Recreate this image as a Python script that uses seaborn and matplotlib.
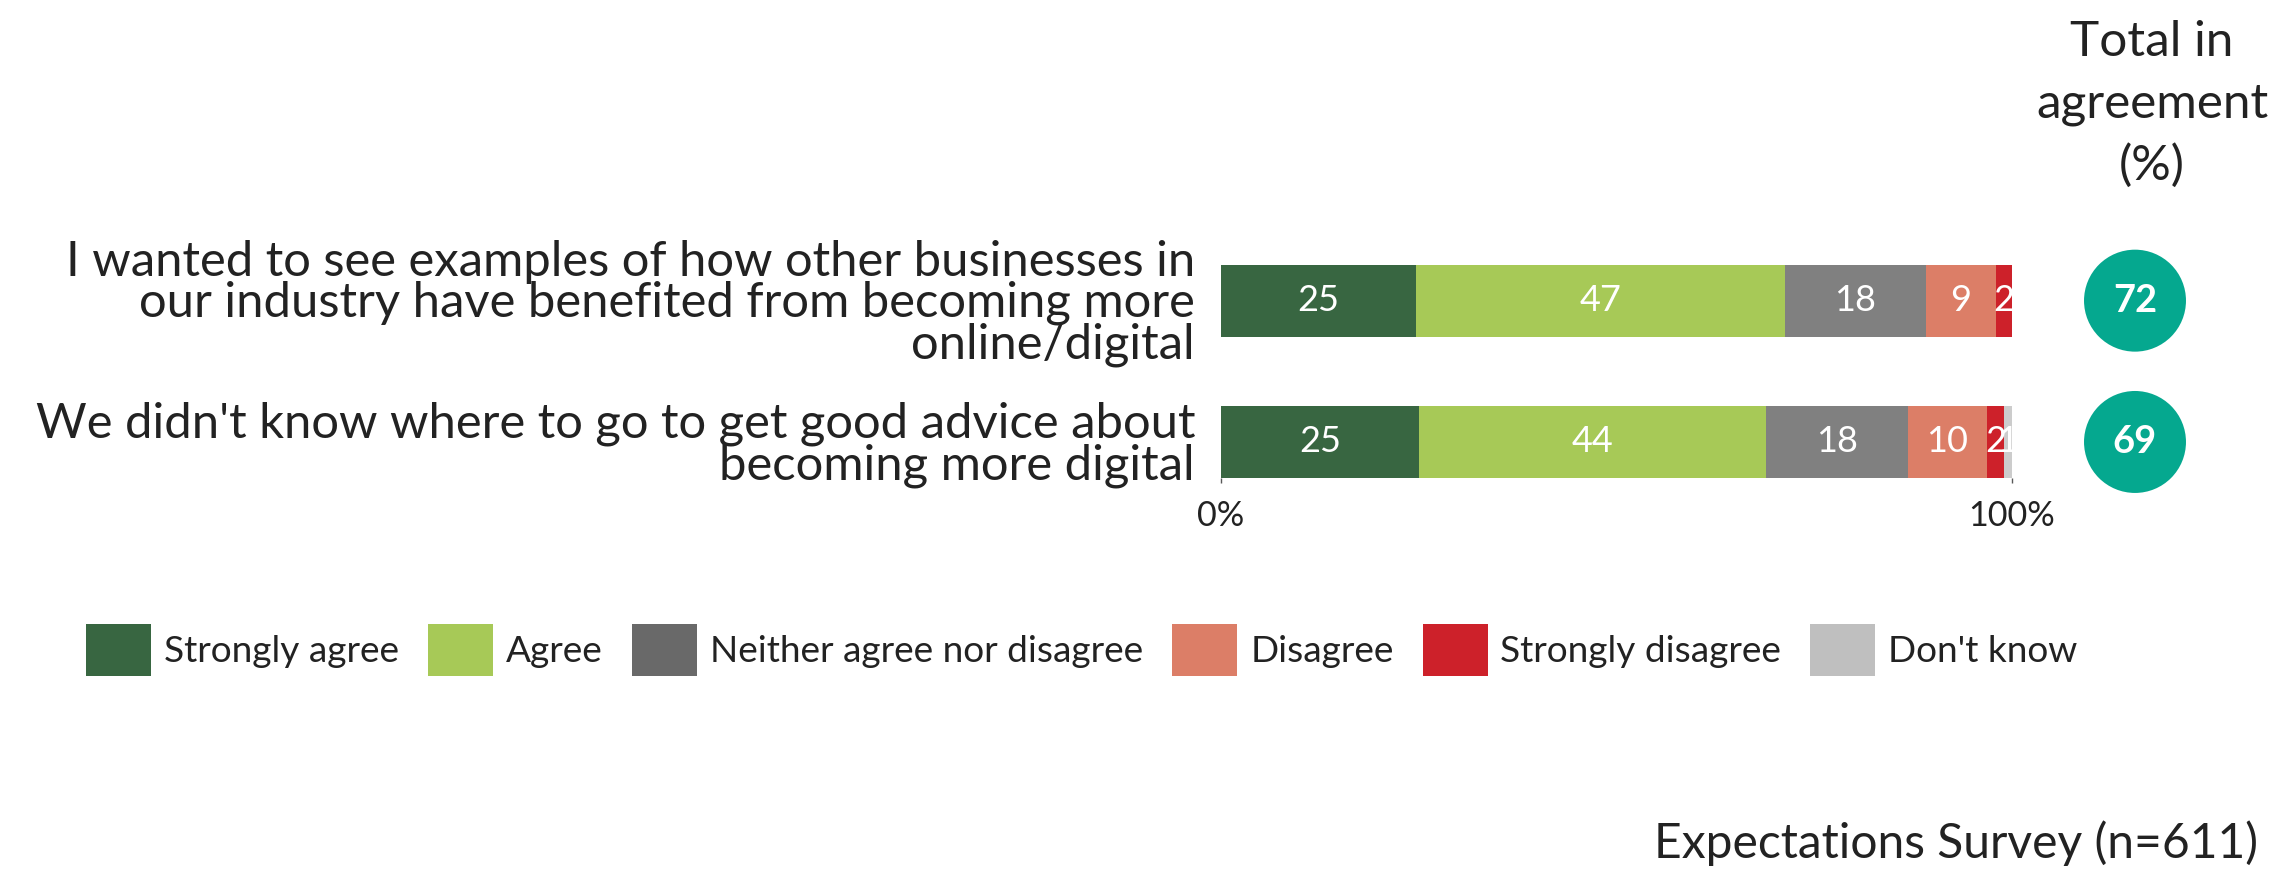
import numpy as np
import pandas as pd
import matplotlib
matplotlib.use("Agg")
import matplotlib.pyplot as plt
import seaborn as sns
from matplotlib.patches import Patch
from matplotlib.font_manager import FontProperties

# ---------------- data ----------------
categories = [
    "I wanted to see examples of how other businesses in\nour industry have benefited from becoming more\nonline/digital",
    "We didn't know where to go to get good advice about\nbecoming more digital",
]
responses = ["Strongly agree", "Agree", "Neither agree nor disagree",
             "Disagree", "Strongly disagree", "Don't know"]
strongly_agree = [24.7, 25.0]
agree = [46.6, 43.9]
neither = [17.8, 18.0]
disagree = [8.9, 9.9]
strongly_disagree = [2.0, 2.2]
dont_know = [0.0, 1.0]
total_agree = [72, 69]
x_ticks = [0, 100]
x_tick_labels = ["0%", "100%"]
header = "Total in\nagreement\n(%)"
footer = "Expectations Survey (n=611)"

# ---------------- style ----------------
bar_colors = ["#386641", "#A7C957", "#808080", "#DC7E67", "#CD212A", "#CCCCCC"]
legend_colors = ["#386641", "#A7C957", "#696969", "#DC7E67", "#CD212A", "#BFBFBF"]
TEAL = "#05A88F"
TEXT = "#222222"
FONT = "Lato"

sns.set_theme(style="white")
plt.rcParams["font.family"] = [FONT, "DejaVu Sans"]

W, H = 2280, 874
fig = plt.figure(figsize=(W / 100, H / 100), dpi=100)
fig.patch.set_facecolor("white")
renderer = fig.canvas.get_renderer()


def fit(s, target_px, weight="normal"):
    t = fig.text(0, 0, s, fontsize=20, fontweight=weight)
    w = t.get_window_extent(renderer=renderer).width
    t.remove()
    return 20 * target_px / w


def spacing_for(step_px, fontsize, weight="normal"):
    fp = FontProperties(family=[FONT, "DejaVu Sans"], size=fontsize, weight=weight)
    w, h, d = renderer.get_text_width_height_descent("lp", fp, ismath=False)
    return step_px / (h - d)


fs_cat = fit("We didn't know where to go to get good advice about", 1163)
fs_bar = fit("47", 42)
fs_circ = fit("72", 44, "bold")
fs_head = fit("agreement", 233)
fs_tick = fit("100%", 87)
fs_leg = fit("Neither agree nor disagree", 435)
fs_foot = fit(footer, 606)

# ---------------- main bars ----------------
bar_top, bar_bot = 230, 478
ax = fig.add_axes([1221 / W, (H - bar_bot) / H, 791 / W, (bar_bot - bar_top) / H])

series = [strongly_agree, agree, neither, disagree, strongly_disagree, dont_know]
cum = np.cumsum(np.array(series), axis=0)
for i in reversed(range(len(series))):
    d = pd.DataFrame({"category": categories, "value": cum[i]})
    sns.barplot(data=d, x="value", y="category", orient="h", color=bar_colors[i],
                saturation=1, width=0.51, errorbar=None, ax=ax, edgecolor="none",
                linewidth=0)

starts = cum - np.array(series)
for i, vals in enumerate(series):
    for j, v in enumerate(vals):
        if v > 0:
            ax.text(starts[i][j] + v / 2, j, f"{int(round(v))}", ha="center", va="center",
                    color="white", fontsize=fs_bar, clip_on=False)

ax.set_xlim(0, 100)
ax.set_ylim(1.255, -0.5)
ax.set_xlabel("")
ax.set_ylabel("")
for s in ax.spines.values():
    s.set_visible(False)
ax.set_xticks(x_ticks, x_tick_labels)
ax.tick_params(axis="x", bottom=True, length=3.6, width=1.0, color="#595959",
               pad=12, labelsize=fs_tick, labelcolor=TEXT)
ax.tick_params(axis="y", left=False, length=0, pad=18.7, labelsize=fs_cat, labelcolor=TEXT)
ls_cat = spacing_for(33, fs_cat)
for t in ax.get_yticklabels():
    t.set_linespacing(ls_cat)
    t.set_multialignment("right")
ax.grid(False)
ax.set_facecolor("none")

# ---------------- totals circles ----------------
ax2 = fig.add_axes([2085 / W, (H - bar_bot) / H, 100 / W, (bar_bot - bar_top) / H])
sns.scatterplot(x=[0.5] * len(total_agree), y=list(range(len(total_agree))), s=5390,
                color=TEAL, edgecolor="none", linewidth=0, legend=False, ax=ax2, clip_on=False)
for j, v in enumerate(total_agree):
    ax2.text(0.5, j, f"{v}", ha="center", va="center", color="white",
             fontsize=fs_circ, fontweight="bold")
ax2.set_xlim(0, 1)
ax2.set_ylim(1.255, -0.5)
ax2.axis("off")

# ---------------- header / footer ----------------
fig.text(2152 / W, 1 - 104 / H, header, ha="center", va="center", fontsize=fs_head,
         color=TEXT, linespacing=spacing_for(53, fs_head), multialignment="center")
fig.text(2258 / W, 1 - 843 / H, footer, ha="right", va="center", fontsize=fs_foot, color=TEXT)

# ---------------- legend ----------------
fpx = fs_leg * 100 / 72
handles = [Patch(facecolor=c, edgecolor="none", label=l) for c, l in zip(legend_colors, responses)]
fig.legend(handles=handles, loc="center", bbox_to_anchor=((86 + 2078) / 2 / W, 1 - 650 / H),
           ncol=6, frameon=False, fontsize=fs_leg, handlelength=65 / fpx,
           handleheight=67 / fpx, handletextpad=13 / fpx, columnspacing=29 / fpx,
           borderpad=0, borderaxespad=0, labelcolor=TEXT)

fig.savefig("out.png", dpi=100, facecolor="white")
